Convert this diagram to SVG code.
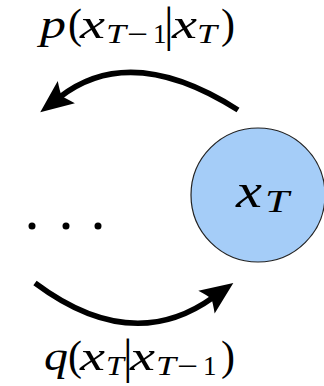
<svg xmlns="http://www.w3.org/2000/svg" width="324" height="386" viewBox="0 0 324 386">
<style>
.math{font-family:"Liberation Serif","DejaVu Serif",serif;font-style:italic;fill:#000}
.up{font-style:normal}
.lab{font-size:42px}
.sub{font-size:27px}
.bar{font-size:48px}
.conn{fill:none;stroke:#000;stroke-width:5.5}
</style>
<defs>
<marker id="ah" markerUnits="userSpaceOnUse" markerWidth="60" markerHeight="60" viewBox="-30 -30 60 60" refX="0" refY="0" orient="auto" overflow="visible">
<path d="M25,0 L-8,-14 Q-3,-4 -2,0 Q-3,4 -8,14 Z" fill="#000"/>
</marker>
</defs>
<rect width="324" height="386" fill="#fff"/>
<g id="node-xT">
<circle cx="258" cy="195" r="67" fill="#a5cdf8" stroke="#222" stroke-width="1.2"/>
<text class="math" font-size="48"><tspan x="236" y="207" textLength="26" lengthAdjust="spacingAndGlyphs">x</tspan><tspan x="265" y="212" font-size="31" textLength="24" lengthAdjust="spacingAndGlyphs">T</tspan></text>
</g>
<g id="node-dots">
<circle cx="32" cy="226" r="3.5" fill="#000"/>
<circle cx="66" cy="226" r="3.5" fill="#000"/>
<circle cx="98" cy="226" r="3.5" fill="#000"/>
</g>
<g id="connectors">
<path class="conn" d="M238,110 Q131,42 60,97" marker-end="url(#ah)"/>
<path class="conn" d="M35,283 Q132,355.5 213,297.5" marker-end="url(#ah)"/>
</g>
<g id="label-p">
<text class="math lab"><tspan x="40" y="38" textLength="26" lengthAdjust="spacingAndGlyphs">p</tspan><tspan class="up" x="68" y="38">(</tspan><tspan x="80" y="38" textLength="25" lengthAdjust="spacingAndGlyphs">x</tspan><tspan class="sub" x="106" y="43" textLength="20" lengthAdjust="spacingAndGlyphs">T</tspan><tspan class="sub up" x="127" y="43" textLength="21" lengthAdjust="spacingAndGlyphs">−</tspan><tspan class="sub up" x="153" y="43">1</tspan><tspan class="bar up" x="164" y="41">|</tspan><tspan x="172" y="38" textLength="25" lengthAdjust="spacingAndGlyphs">x</tspan><tspan class="sub" x="197" y="43" textLength="20" lengthAdjust="spacingAndGlyphs">T</tspan><tspan class="up" x="221" y="38">)</tspan></text>
</g>
<g id="label-q">
<text class="math lab"><tspan x="44" y="370" textLength="24" lengthAdjust="spacingAndGlyphs">q</tspan><tspan class="up" x="68" y="370">(</tspan><tspan x="80" y="370" textLength="25" lengthAdjust="spacingAndGlyphs">x</tspan><tspan class="sub" x="106" y="375" textLength="18" lengthAdjust="spacingAndGlyphs">T</tspan><tspan class="bar up" x="123" y="373">|</tspan><tspan x="130" y="370" textLength="25" lengthAdjust="spacingAndGlyphs">x</tspan><tspan class="sub" x="156" y="375" textLength="20" lengthAdjust="spacingAndGlyphs">T</tspan><tspan class="sub up" x="177" y="375" textLength="21" lengthAdjust="spacingAndGlyphs">−</tspan><tspan class="sub up" x="203" y="375">1</tspan><tspan class="up" x="221" y="370">)</tspan></text>
</g>
</svg>
